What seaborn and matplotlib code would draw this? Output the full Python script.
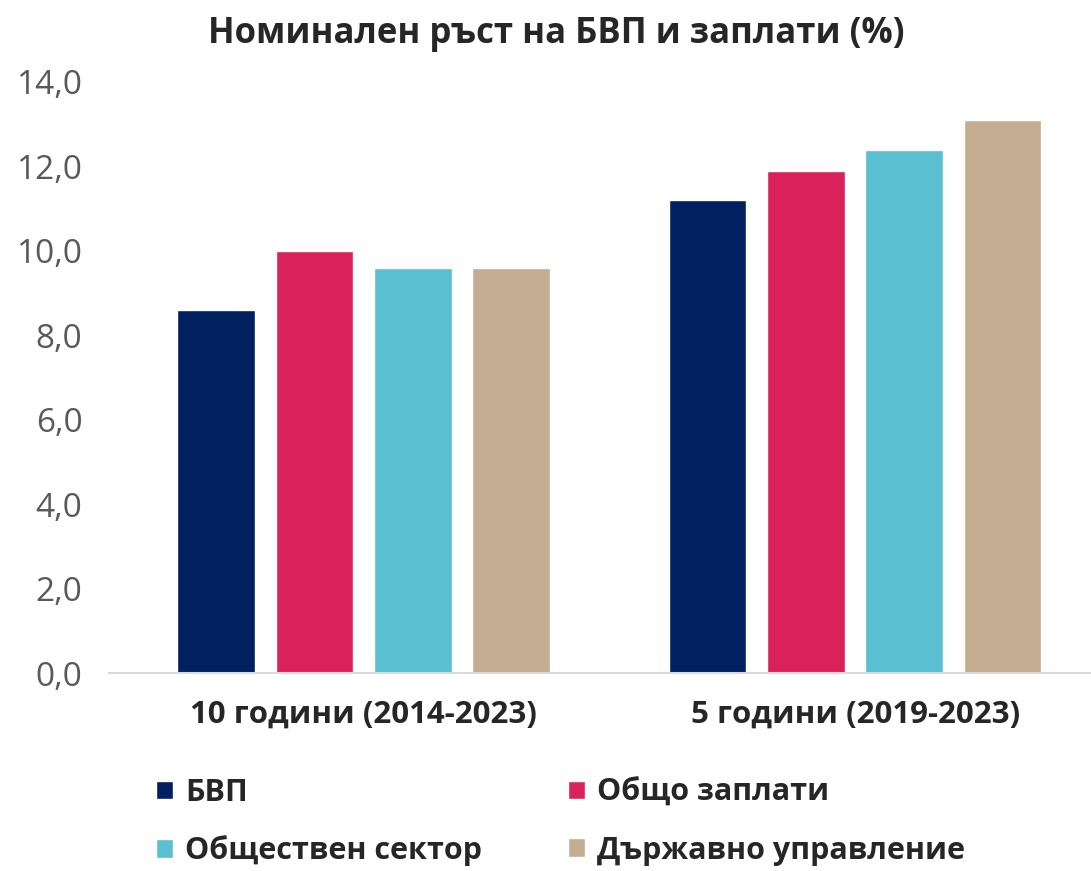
import pandas as pd
import numpy as np
import matplotlib.pyplot as plt
import seaborn as sns
from matplotlib.ticker import FuncFormatter
from matplotlib.patches import Patch

# данни
periods = ['10 години (2014-2023)', '5 години (2019-2023)']
series = ['БВП', 'Общо заплати', 'Обществен сектор', 'Държавно управление']
gdp = [8.6, 11.2]
wages_total = [10.0, 11.9]
public_sector = [9.6, 12.4]
government = [9.6, 13.1]
colors = ['#002060', '#D9215B', '#5ABFD0', '#C4AC91']

rows = []
for name, vals in zip(series, [gdp, wages_total, public_sector, government]):
    for p, v in zip(periods, vals):
        rows.append({'Период': p, 'Серия': name, 'Стойност': v})
df = pd.DataFrame(rows)

sns.set_style('white')
plt.rcParams['font.family'] = ['Open Sans', 'DejaVu Sans']

fig = plt.figure(figsize=(10.91, 8.71), dpi=100)
ax = fig.add_axes([0.0999, 0.2273, 0.9001, 0.6786])

sns.barplot(data=df, x='Период', y='Стойност', hue='Серия', hue_order=series,
            palette=colors, width=0.8, gap=0.21, saturation=1, ax=ax, legend=False)

ax.set_ylim(0, 14)
ax.set_xlim(-0.518, 1.48)
ax.set_yticks(np.arange(0, 15, 2))
ax.yaxis.set_major_formatter(FuncFormatter(lambda v, _: f'{v:.1f}'.replace('.', ',')))
ax.tick_params(axis='y', length=0, pad=19, labelsize=24, labelcolor='#595959')
ax.tick_params(axis='x', length=0, pad=19, labelsize=22.5)
for lbl in ax.get_xticklabels():
    lbl.set_fontweight('bold')
ax.set_xlabel('')
ax.set_ylabel('')

for side in ['top', 'right', 'left']:
    ax.spines[side].set_visible(False)
ax.spines['bottom'].set_color('#D9D9D9')
ax.spines['bottom'].set_linewidth(1.5)

fig.suptitle('Номинален ръст на БВП и заплати (%)', x=0.51, y=0.982,
             fontsize=25, fontweight='bold')

order = [0, 2, 1, 3]
handles = [Patch(facecolor=colors[i], label=series[i]) for i in order]
fig.legend(handles=handles, ncol=2, loc='center left', bbox_to_anchor=(0.118, 0.056),
           frameon=False, prop={'weight': 'bold', 'size': 22},
           handlelength=0.55, handleheight=0.55, handletextpad=0.4,
           columnspacing=2.8, labelspacing=0.9)

fig.savefig('out.png', dpi=100)
